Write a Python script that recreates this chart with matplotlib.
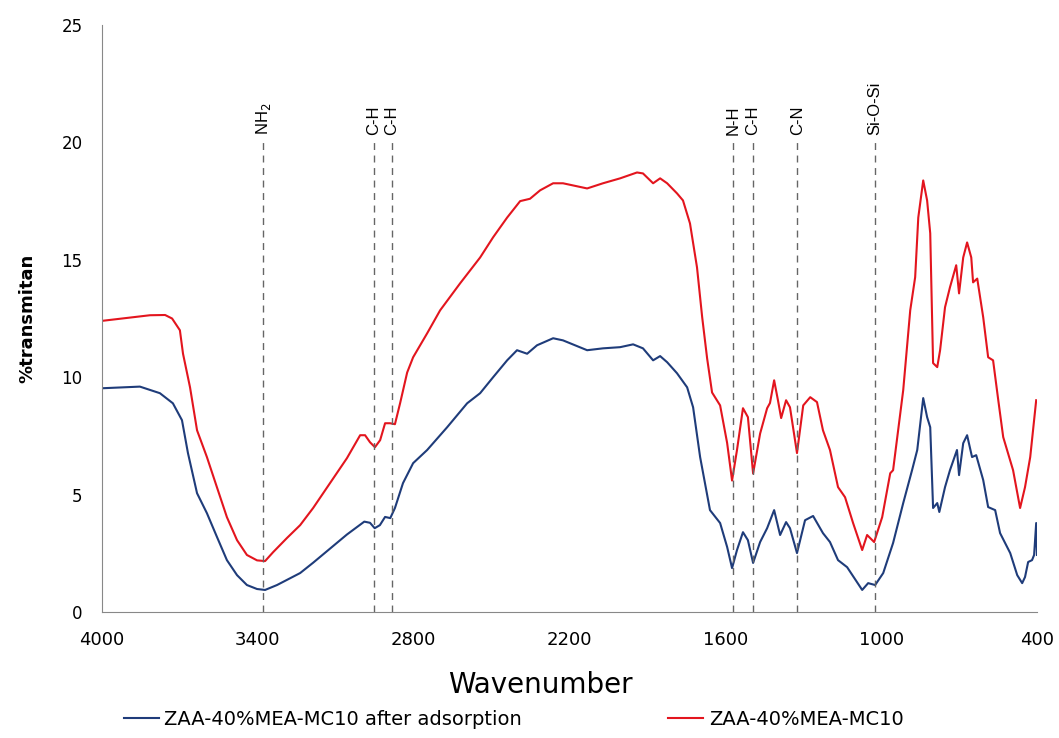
import matplotlib
matplotlib.use("Agg")
import matplotlib.pyplot as plt

# spektrum ZAA-40%MEA-MC10 (sebelum adsorpsi)
wn_red = [4000, 3815, 3757, 3730, 3700, 3688, 3661, 3634, 3596, 3557, 3519, 3480, 3442, 3403,
          3372, 3341, 3288, 3237, 3187, 3122, 3057, 3006, 2987, 2968, 2949, 2929, 2910, 2891,
          2872, 2852, 2825, 2802, 2748, 2698, 2621, 2544, 2494, 2440, 2390, 2352, 2313, 2263,
          2225, 2132, 2071, 2005, 1940, 1917, 1878, 1851, 1824, 1786, 1763, 1736, 1709, 1689,
          1670, 1651, 1620, 1593, 1574, 1555, 1532, 1513, 1493, 1466, 1439, 1428, 1412, 1397,
          1385, 1366, 1351, 1324, 1300, 1273, 1247, 1224, 1197, 1166, 1139, 1108, 1073, 1054,
          1027, 996, 965, 954, 915, 888, 869, 857, 838, 823, 811, 800, 784, 773, 754, 735,
          711, 700, 684, 669, 653, 646, 630, 607, 588, 569, 549, 530, 492, 465, 446, 426, 403]
t_red = [12.4, 12.64, 12.65, 12.5, 12.0, 11.0, 9.57, 7.74, 6.6, 5.3, 4.04, 3.06, 2.43, 2.2,
         2.17, 2.55, 3.15, 3.7, 4.43, 5.49, 6.55, 7.53, 7.53, 7.23, 7.02, 7.32, 8.04, 8.04,
         8.0, 8.9, 10.2, 10.85, 11.87, 12.85, 14.0, 15.1, 15.96, 16.8, 17.5, 17.6, 17.96, 18.26,
         18.26, 18.04, 18.26, 18.47, 18.72, 18.68, 18.26, 18.47, 18.26, 17.83, 17.53, 16.55, 14.68, 12.55,
         10.8, 9.35, 8.8, 7.2, 5.6, 6.9, 8.68, 8.3, 5.9, 7.6, 8.68, 8.9, 9.87, 9.0,
         8.26, 9.02, 8.72, 6.77, 8.8, 9.15, 8.94, 7.74, 6.9, 5.32, 4.89, 3.79, 2.64, 3.28,
         2.98, 4.04, 5.91, 6.04, 9.45, 12.85, 14.26, 16.8, 18.38, 17.53, 16.13, 10.6, 10.43, 11.15, 12.98, 13.83,
         14.77, 13.57, 15.1, 15.74, 15.1, 14.04, 14.2, 12.55, 10.85, 10.72, 9.02, 7.45, 6.04, 4.43, 5.32, 6.6, 9.02]

# spektrum ZAA-40%MEA-MC10 setelah adsorpsi
wn_blue = [4000, 3854, 3777, 3727, 3692, 3669, 3634, 3596, 3557, 3519, 3480, 3442, 3403, 3372,
           3326, 3237, 3187, 3122, 3057, 2990, 2968, 2950, 2930, 2910, 2890, 2872, 2841, 2802,
           2748, 2671, 2594, 2544, 2494, 2440, 2402, 2363, 2325, 2263, 2225, 2132, 2071, 2005,
           1955, 1917, 1878, 1851, 1824, 1786, 1747, 1724, 1697, 1659, 1620, 1593, 1574, 1555,
           1532, 1513, 1493, 1466, 1439, 1412, 1389, 1366, 1351, 1324, 1293, 1262, 1224, 1197,
           1166, 1131, 1073, 1050, 1023, 992, 954, 915, 881, 861, 838, 823, 811, 800, 784,
           776, 754, 735, 708, 700, 684, 669, 650, 634, 607, 588, 561, 542, 503, 476, 457,
           446, 434, 419, 411, 403, 400]
t_blue = [9.53, 9.6, 9.32, 8.89, 8.17, 6.77, 5.06, 4.21, 3.19, 2.21, 1.57, 1.15, 0.98, 0.94,
          1.15, 1.66, 2.1, 2.7, 3.3, 3.85, 3.8, 3.57, 3.7, 4.05, 4.0, 4.43, 5.49, 6.34,
          6.9, 7.87, 8.89, 9.32, 10.0, 10.72, 11.15, 11.0, 11.36, 11.66, 11.57, 11.15, 11.23, 11.28,
          11.4, 11.23, 10.72, 10.9, 10.64, 10.17, 9.57, 8.72, 6.6, 4.34, 3.79, 2.77, 1.87, 2.64,
          3.4, 3.06, 2.09, 2.98, 3.57, 4.34, 3.28, 3.83, 3.57, 2.51, 3.91, 4.09, 3.36, 2.98,
          2.21, 1.91, 0.94, 1.23, 1.15, 1.66, 2.94, 4.64, 6.04, 6.9, 9.11, 8.3, 7.87, 4.43, 4.64,
          4.26, 5.32, 6.04, 6.9, 5.83, 7.19, 7.53, 6.6, 6.68, 5.62, 4.47, 4.34, 3.36, 2.51, 1.57, 1.23,
          1.49, 2.13, 2.21, 2.43, 3.79, 2.43]

# pita serapan
band_pos = [3380, 2953, 2883, 1570, 1493, 1323, 1023]
band_lbl = ['NH$_2$', 'C-H', 'C-H', 'N-H', 'C-H', 'C-N', 'Si-O-Si']

fig = plt.figure(figsize=(10.59, 7.38), dpi=100)
ax = fig.add_axes([0.0963, 0.1707, 0.8829, 0.7954])

ax.plot(wn_blue, t_blue, color='#1f3c7a', lw=1.5, label='ZAA-40%MEA-MC10 after adsorption')
ax.plot(wn_red, t_red, color='#e3151e', lw=1.5, label='ZAA-40%MEA-MC10')

for p, l in zip(band_pos, band_lbl):
    ax.plot([p, p], [0, 20.1], color='#666666', lw=1, ls=(0, (5, 4)))
    ax.text(p, 20.3, l, rotation=90, ha='center', va='bottom', fontsize=12,
            family=['Liberation Sans', 'DejaVu Sans'])

ax.set_xlim(4000, 400)
ax.set_ylim(0, 25)
ax.set_xticks([4000, 3400, 2800, 2200, 1600, 1000, 400])
ax.set_yticks([0, 5, 10, 15, 20, 25])
ax.tick_params(length=0, labelsize=12, pad=14)
for lab in ax.get_xticklabels():
    lab.set_fontsize(13)
for s in ['top', 'right']:
    ax.spines[s].set_visible(False)
for s in ['left', 'bottom']:
    ax.spines[s].set_color('#888888')

ax.set_xlabel('Wavenumber', fontsize=20)
ax.xaxis.set_label_coords((540 - 102) / 935, -0.1)
ax.set_ylabel('%transmitan', fontsize=13, fontweight='bold')
ax.yaxis.set_label_coords(-0.07, 0.5)

fig.legend(loc='center', bbox_to_anchor=(0.485, 0.025), ncol=2, frameon=False,
           prop={'size': 14}, handlelength=1.8, handletextpad=0.3, columnspacing=7.5)

fig.savefig('out.png', dpi=100)
